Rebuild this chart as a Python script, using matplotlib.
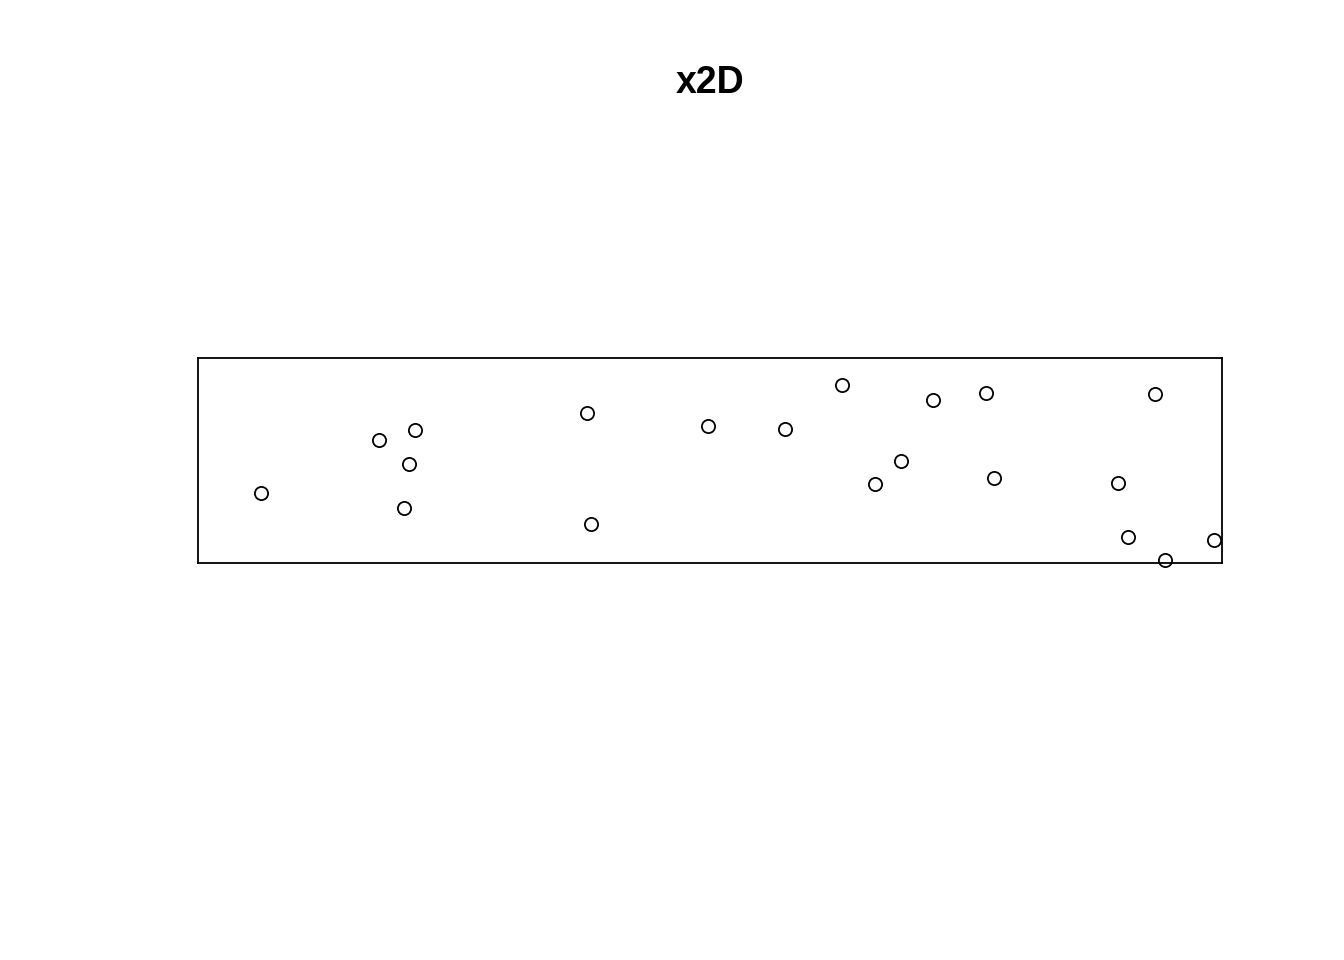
import numpy as np
import matplotlib.pyplot as plt

# point coordinates
x = [0.062, 0.177, 0.212, 0.206, 0.201, 0.380, 0.384, 0.498, 0.573, 0.629,
     0.718, 0.770, 0.687, 0.661, 0.777, 0.935, 0.898, 0.908, 0.944, 0.992]
y = [0.068, 0.120, 0.130, 0.097, 0.054, 0.146, 0.038, 0.134, 0.131, 0.174,
     0.159, 0.166, 0.100, 0.077, 0.083, 0.165, 0.078, 0.025, 0.003, 0.022]

plt.rcParams['font.family'] = ['Liberation Sans', 'DejaVu Sans']
fig = plt.figure(figsize=(13.44, 9.6), dpi=100)
ax = fig.add_axes([198/1344, 1 - 563/960, 1024/1344, 205/960])
ax.plot(x, y, 'o', mfc='none', mec='black', ms=9.5, mew=1.3, clip_on=False)
ax.set_xlim(0, 1)
ax.set_ylim(0, 0.2)
ax.set_xticks([])
ax.set_yticks([])
for s in ax.spines.values():
    s.set_linewidth(1.3)
fig.text(710/1344, 1 - 83/960, 'x2D', ha='center', va='center',
         fontsize=27, fontweight='bold')
fig.savefig('out.png', dpi=100)
